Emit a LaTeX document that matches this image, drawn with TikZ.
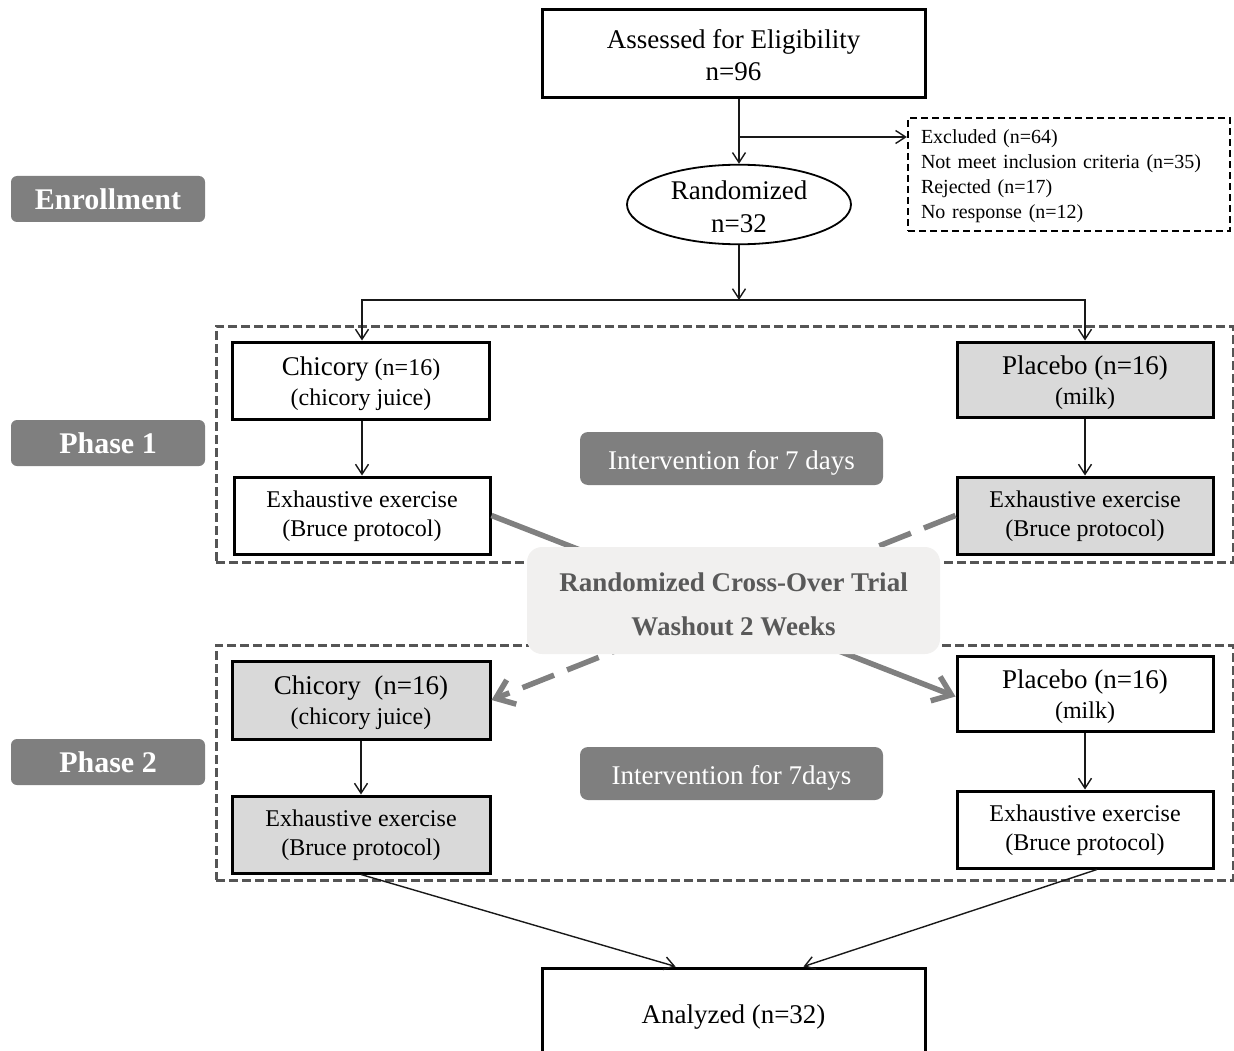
\documentclass[tikz,border=0pt]{standalone}
\usepackage{fontspec}
\setmainfont{Liberation Serif}
\usetikzlibrary{shapes.geometric,arrows.meta,calc}
\definecolor{labgray}{HTML}{7F7F7F}
\definecolor{boxgray}{HTML}{D9D9D9}
\definecolor{crossfill}{HTML}{F1F0EF}
\definecolor{crosstxt}{HTML}{595959}
\definecolor{phasecol}{HTML}{555555}
\definecolor{xline}{HTML}{808080}
\newcommand\tup[1]{\rule{0pt}{#1}}
\begin{document}
\begin{tikzpicture}[x=1pt,y=-1pt,
  box/.style={draw=black,line width=3pt,fill=white,align=center,inner sep=0pt,
    font=\fontsize{24}{29}\selectfont},
  graybox/.style={box,fill=boxgray},
  phasebox/.style={draw=phasecol,line width=3pt,dash pattern=on 9pt off 4pt,inner sep=0pt},
  sidelab/.style={fill=labgray,rounded corners=6pt,text=white,inner sep=0pt,
    minimum width=194pt,minimum height=46pt,font=\fontsize{30}{36}\selectfont\bfseries},
  intlab/.style={fill=labgray,rounded corners=8pt,text=white,inner sep=0pt,
    minimum width=303pt,minimum height=53pt,font=\fontsize{27}{32}\selectfont},
  arr/.style={draw=black!90,line width=1.4pt,-{Straight Barb[length=10pt,width=13pt]}},
  xarr/.style={draw=xline,line width=5.5pt,-{Straight Barb[length=17pt,width=26pt]}}
]
\useasboundingbox (0,0) rectangle (1234,1051);
\clip (0,0) rectangle (1234,1051);

% phase frames
\node[phasebox,minimum width=1017pt,minimum height=236pt] (ph1frame) at (724.5,444) {};
\node[phasebox,minimum width=1017pt,minimum height=235pt] (ph2frame) at (724.5,762.5) {};

% side labels
\node[sidelab] (enroll) at (108,199) {Enrollment};
\node[sidelab] (phase1) at (108,443) {Phase 1};
\node[sidelab] (phase2) at (108,762) {Phase 2};

% enrollment
\node[box,minimum width=383pt,minimum height=88pt,font=\fontsize{27}{32}\selectfont] (assess) at (733.5,54) {\tup{22pt}Assessed for Eligibility\\n=96};
\node[draw=black,line width=1.8pt,ellipse,minimum width=224pt,minimum height=77pt,inner sep=0pt,align=center,font=\fontsize{27}{33}\selectfont] (rand) at (739,204.5) {\tup{23pt}Randomized\\n=32};
\node[draw=black,line width=2.3pt,dash pattern=on 7pt off 4pt,text width=296pt,align=left,inner xsep=13pt,minimum height=113pt,font=\fontsize{20}{25}\selectfont] (excl) at (1069,174.5) {\tup{18pt}Excluded (n=64)\\Not meet inclusion criteria (n=35)\\Rejected (n=17)\\No response (n=12)};

% phase 1
\node[box,minimum width=257pt,minimum height=77pt,font=\fontsize{24}{30}\selectfont] (chic1) at (361,380.5) {{\fontsize{27}{30}\selectfont\tup{25pt}Chicory} (n=16)\\(chicory juice)};
\node[box,minimum width=256pt,minimum height=77pt] (ex1) at (362,515.5) {\tup{19pt}Exhaustive exercise\\(Bruce protocol)};
\node[graybox,minimum width=256pt,minimum height=75pt,font=\fontsize{24}{30}\selectfont] (plac1) at (1085,379.5) {{\fontsize{27}{30}\selectfont\tup{26pt}Placebo (n=16)}\\(milk)};
\node[graybox,minimum width=256pt,minimum height=77pt] (exp1) at (1085,515.5) {\tup{19pt}Exhaustive exercise\\(Bruce protocol)};
\node[intlab] (int1) at (731.5,458.5) {\tup{27pt}Intervention for 7 days};

% phase 2
\node[graybox,minimum width=258pt,minimum height=78pt,font=\fontsize{24}{30}\selectfont] (chic2) at (361,700) {{\fontsize{27}{30}\selectfont\tup{25pt}Chicory\ \ (n=16)}\\(chicory juice)};
\node[graybox,minimum width=258pt,minimum height=77pt] (ex2) at (361,834.5) {\tup{19pt}Exhaustive exercise\\(Bruce protocol)};
\node[box,minimum width=256pt,minimum height=75pt,font=\fontsize{24}{30}\selectfont] (plac2) at (1085,693.5) {{\fontsize{27}{30}\selectfont\tup{26pt}Placebo (n=16)}\\(milk)};
\node[box,minimum width=256pt,minimum height=77pt] (exp2) at (1085,829.5) {\tup{19pt}Exhaustive exercise\\(Bruce protocol)};
\node[intlab] (int2) at (731.5,773.5) {\tup{27pt}Intervention for 7days};

% analyzed
\node[box,minimum width=383pt,minimum height=92pt,font=\fontsize{27}{32}\selectfont] (an) at (733.5,1014) {\tup{25pt}Analyzed (n=32)};

% connectors
\draw[arr] (rand.north |- assess.south) -- (rand.north);
\coordinate (branch) at (739,137);
\draw[arr] (branch) -- (branch -| excl.west);
\coordinate (split) at (739,300);
\draw[arr] (rand.south) -- (split);
\draw[arr] (split) -| (ex1.north |- chic1.north);
\draw[arr] (split) -| (plac1.north);
\draw[arr] (ex1.north |- chic1.south) -- (ex1.north);
\draw[arr] (plac1.south) -- (exp1.north);
\draw[arr] (chic2.south) -- (ex2.north);
\draw[arr] (plac2.south) -- (exp2.north);
\draw[arr] (ex2.south) -- ([xshift=-58pt]an.north);
\draw[arr] ([xshift=12pt]exp2.south) -- ([xshift=70pt]an.north);

% cross-over lines
\draw[xarr] (ex1.east) -- ([yshift=-3pt]plac2.west);
\draw[xarr,dash pattern=on 34pt off 14pt] (exp1.west) -- (chic2.east);

% cross-over box
\node[fill=crossfill,rounded corners=15pt,minimum width=413pt,minimum height=107pt,inner sep=0pt,align=center,text=crosstxt,font=\fontsize{27}{44}\selectfont\bfseries] (crossbox) at (733.5,600.5) {\tup{27pt}Randomized Cross-Over Trial\\Washout 2 Weeks};
\end{tikzpicture}
\end{document}
